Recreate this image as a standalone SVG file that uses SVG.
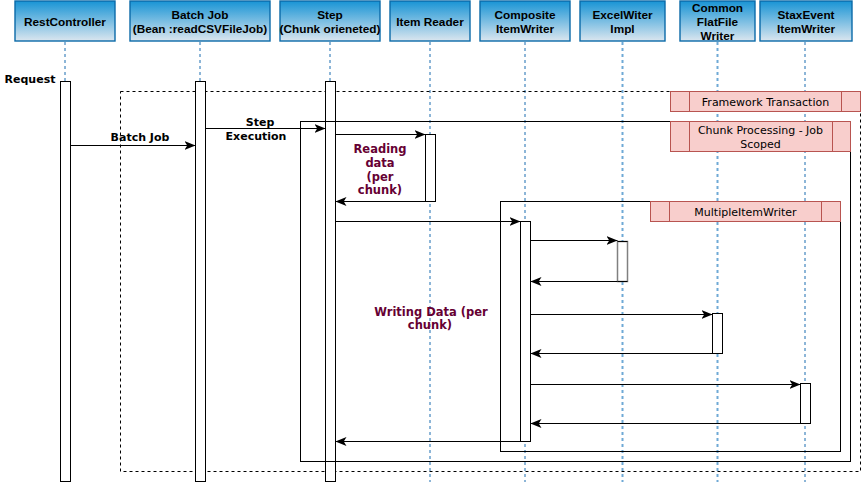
<svg xmlns="http://www.w3.org/2000/svg" width="861" height="482" viewBox="0 0 861 482">
  <defs>
    <linearGradient id="hdr" x1="0" y1="0" x2="0" y2="1">
      <stop offset="0" stop-color="#1894d5"/>
      <stop offset="1" stop-color="#dbe6ef"/>
    </linearGradient>
    <marker id="arr" viewBox="0 0 10 8" refX="10" refY="4" markerWidth="11" markerHeight="9" markerUnits="userSpaceOnUse" orient="auto">
      <path d="M0,0 L10,4 L0,8 L2.5,4 Z" fill="#000"/>
    </marker>
  </defs>
  <style>
    .hdr { fill: url(#hdr); stroke: #0a6aa8; stroke-width: 1.4; }
    .ht { font-family: "Liberation Sans", Arial, sans-serif; font-weight: bold; font-size: 11.8px; fill: #000; text-anchor: middle; }
    .life { stroke: #1a6db0; stroke-width: 1; stroke-dasharray: 3 3; fill: none; }
    .life2 { stroke: #6fa9d6; stroke-width: 2; stroke-dasharray: 3 3; fill: none; }
    .bar { fill: #fff; stroke: #000; stroke-width: 1; }
    .msg { stroke: #000; stroke-width: 1; fill: none; marker-end: url(#arr); }
    .lbl { font-family: "DejaVu Sans", Verdana, sans-serif; font-weight: bold; font-size: 11px; fill: #000; text-anchor: middle; }
    .note { font-family: "DejaVu Sans", Verdana, sans-serif; font-weight: bold; font-size: 11.5px; fill: #660033; text-anchor: middle; }
    .frame { fill: none; stroke: #000; stroke-width: 1; }
    .dframe { fill: none; stroke: #000; stroke-width: 1; stroke-dasharray: 3 3; }
    .tag { fill: #f8cecc; stroke: #b85450; stroke-width: 1; }
    .tagt { font-family: "DejaVu Sans", Verdana, sans-serif; font-size: 11px; fill: #000; text-anchor: middle; }
  </style>
  <rect width="861" height="482" fill="#fff"/>

  <!-- lifelines -->
  <g id="lifelines">
    <line class="life" x1="65" y1="42" x2="65" y2="482"/>
    <line class="life" x1="200" y1="42" x2="200" y2="482"/>
    <line class="life" x1="330" y1="42" x2="330" y2="482"/>
    <line class="life" x1="430" y1="42" x2="430" y2="482"/>
    <line class="life" x1="525" y1="42" x2="525" y2="482"/>
    <line class="life2" x1="622.5" y1="42" x2="622.5" y2="482"/>
    <line class="life2" x1="717.5" y1="42" x2="717.5" y2="482"/>
    <line class="life" x1="805" y1="42" x2="805" y2="482"/>
  </g>

  <!-- outer transaction frame -->
  <g id="framework-transaction">
    <rect class="dframe" x="120.5" y="91.5" width="740" height="380"/>
  </g>

  <!-- participants -->
  <g id="rest-controller">
    <rect class="hdr" x="15" y="1" width="100" height="40"/>
    <text class="ht" x="65" y="25.5">RestController</text>
    <rect class="bar" x="60.5" y="81.5" width="10" height="400"/>
  </g>
  <g id="batch-job">
    <rect class="hdr" x="130" y="1" width="140" height="40"/>
    <text class="ht" x="200" y="19">Batch Job</text>
    <text class="ht" x="200" y="33">(Bean :readCSVFileJob)</text>
    <rect class="bar" x="195.5" y="81.5" width="10" height="400"/>
  </g>
  <g id="step">
    <rect class="hdr" x="280" y="1" width="100" height="40"/>
    <text class="ht" x="330" y="19">Step</text>
    <text class="ht" x="330" y="33">(Chunk orieneted)</text>
    <rect class="bar" x="325.5" y="81.5" width="10" height="400"/>
  </g>
  <g id="item-reader">
    <rect class="hdr" x="390" y="1" width="80" height="40"/>
    <text class="ht" x="430" y="25.5">Item Reader</text>
    <rect class="bar" x="425.5" y="134.5" width="10" height="67"/>
  </g>
  <g id="composite-item-writer">
    <rect class="hdr" x="480" y="1" width="90" height="40"/>
    <text class="ht" x="525" y="19">Composite</text>
    <text class="ht" x="525" y="33">ItemWriter</text>
    <rect class="bar" x="520.5" y="221.5" width="10" height="220"/>
  </g>
  <g id="excel-writer-impl">
    <rect class="hdr" x="580" y="1" width="85" height="40"/>
    <text class="ht" x="622.5" y="19">ExcelWiter</text>
    <text class="ht" x="622.5" y="33">Impl</text>
    <rect x="617.5" y="241.5" width="10" height="40" fill="#fff" stroke="#808080" stroke-width="1.5"/>
    <path d="M617.5,241.5 H627.5 M617.5,281.5 H627.5" stroke="#000" stroke-width="1"/>
  </g>
  <g id="common-flatfile-writer">
    <rect class="hdr" x="680" y="1" width="75" height="40"/>
    <text class="ht" x="717.5" y="11.5">Common</text>
    <text class="ht" x="717.5" y="25.5">FlatFile</text>
    <text class="ht" x="717.5" y="39.5">Writer</text>
    <rect class="bar" x="712.5" y="313.5" width="10" height="40"/>
  </g>
  <g id="staxevent-item-writer">
    <rect class="hdr" x="760" y="1" width="92" height="40"/>
    <text class="ht" x="806" y="19">StaxEvent</text>
    <text class="ht" x="806" y="33">ItemWriter</text>
    <rect class="bar" x="800.5" y="383.5" width="10" height="40"/>
  </g>

  <!-- inner fragments -->
  <g id="chunk-processing">
    <rect class="frame" x="300.5" y="121.5" width="550" height="340"/>
  </g>
  <g id="multiple-item-writer">
    <rect class="frame" x="500.5" y="201.5" width="340" height="250"/>
  </g>

  <!-- fragment tags -->
  <g id="tags">
    <rect class="tag" x="670.5" y="91.5" width="190" height="20"/>
    <line class="tag" x1="689.5" y1="91.5" x2="689.5" y2="111.5"/>
    <line class="tag" x1="841.5" y1="91.5" x2="841.5" y2="111.5"/>
    <text class="tagt" x="765.5" y="105.5">Framework Transaction</text>

    <rect class="tag" x="670.5" y="121.5" width="180" height="30"/>
    <line class="tag" x1="689.5" y1="121.5" x2="689.5" y2="151.5"/>
    <line class="tag" x1="832.5" y1="121.5" x2="832.5" y2="151.5"/>
    <text class="tagt" x="760.5" y="133.5">Chunk Processing - Job</text>
    <text class="tagt" x="760.5" y="147.5">Scoped</text>

    <rect class="tag" x="650.5" y="201.5" width="190" height="20"/>
    <line class="tag" x1="669.5" y1="201.5" x2="669.5" y2="221.5"/>
    <line class="tag" x1="821.5" y1="201.5" x2="821.5" y2="221.5"/>
    <text class="tagt" x="745.5" y="215.5">MultipleItemWriter</text>
  </g>

  <!-- messages -->
  <g id="connectors">
    <line class="msg" x1="70.5" y1="145.5" x2="195.5" y2="145.5"/>
    <line class="msg" x1="205.5" y1="128.5" x2="325.5" y2="128.5"/>
    <line class="msg" x1="335.5" y1="134.5" x2="425.5" y2="134.5"/>
    <line class="msg" x1="425.5" y1="201.5" x2="335.5" y2="201.5"/>
    <line class="msg" x1="335.5" y1="221.5" x2="520.5" y2="221.5"/>
    <line class="msg" x1="530.5" y1="240.5" x2="617.5" y2="240.5"/>
    <line class="msg" x1="617.5" y1="281.5" x2="530.5" y2="281.5"/>
    <line class="msg" x1="530.5" y1="314.5" x2="712.5" y2="314.5"/>
    <line class="msg" x1="712.5" y1="353.5" x2="530.5" y2="353.5"/>
    <line class="msg" x1="530.5" y1="384.5" x2="800.5" y2="384.5"/>
    <line class="msg" x1="800.5" y1="423.5" x2="530.5" y2="423.5"/>
    <line class="msg" x1="520.5" y1="441.5" x2="335.5" y2="441.5"/>
  </g>

  <!-- message labels -->
  <g id="labels">
    <text class="lbl" x="30" y="83">Request</text>
    <text class="lbl" x="140" y="141">Batch Job</text>
    <text class="lbl" x="260" y="126">Step</text>
    <text class="lbl" x="256" y="140">Execution</text>
    <text class="note" x="380" y="153">Reading</text>
    <text class="note" x="380" y="167">data</text>
    <text class="note" x="380" y="181">(per</text>
    <text class="note" x="380" y="194">chunk)</text>
    <text class="note" x="431" y="316">Writing Data (per</text>
    <text class="note" x="430" y="329">chunk)</text>
  </g>
</svg>
